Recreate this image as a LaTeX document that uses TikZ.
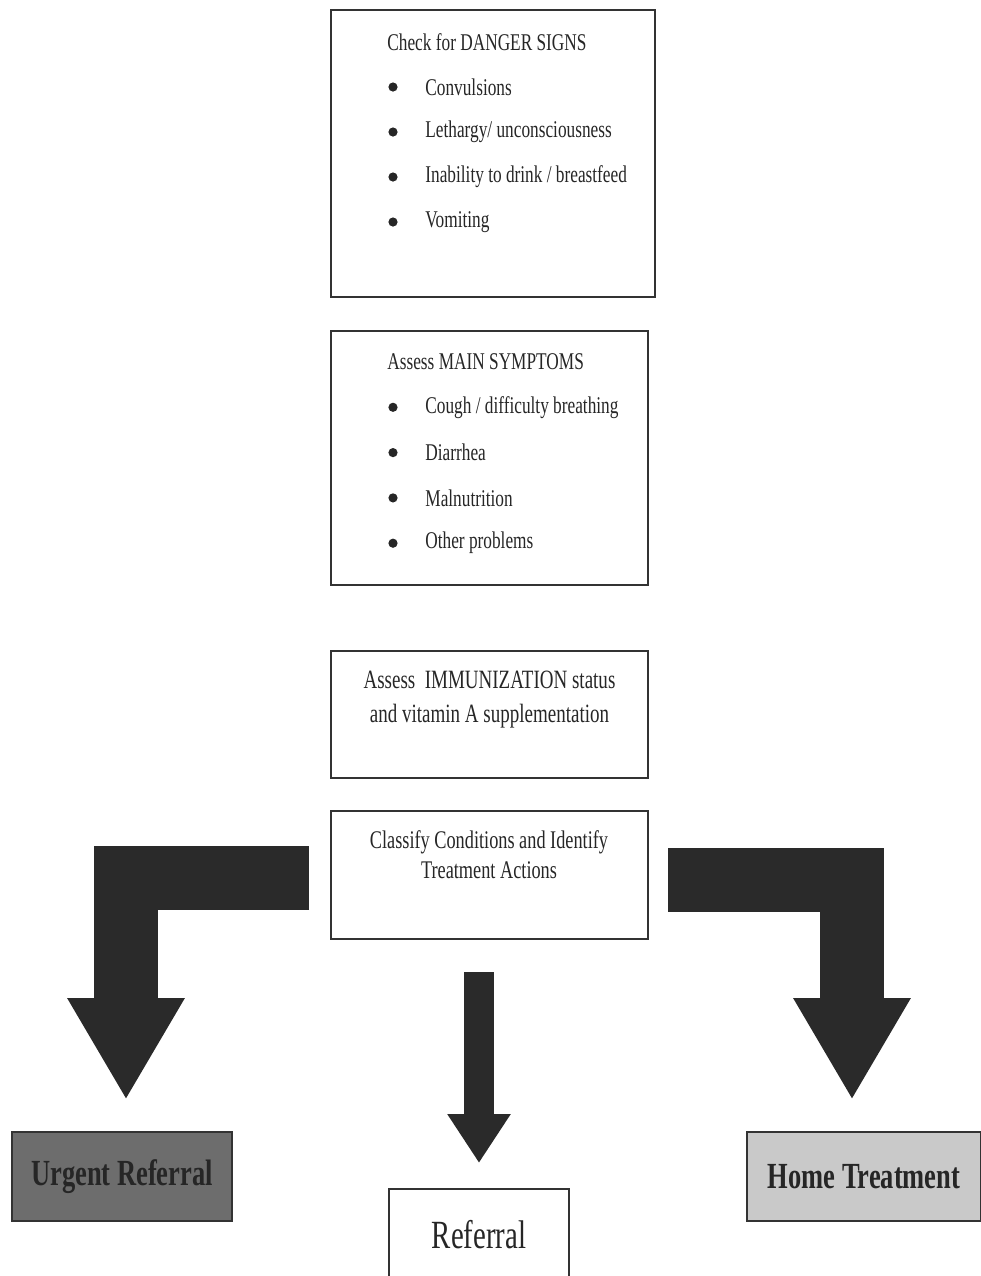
\documentclass[tikz,border=0pt]{standalone}
\usepackage{fontspec}
\setmainfont[FakeStretch=0.72]{Liberation Serif}
\usetikzlibrary{arrows.meta}
\definecolor{arrowgray}{HTML}{2A2A2A}
\definecolor{urgentgray}{HTML}{6D6D6D}
\definecolor{homegray}{HTML}{C9C9C9}

\begin{document}
\begin{tikzpicture}[x=0.5pt, y=-0.5pt,
	box/.style={draw=black!80, line width=1pt, inner sep=0pt},
	txt/.style={inner sep=0pt, anchor=west, text=black!85, font=\fontsize{12}{14}\selectfont},
	endbox/.style={box, minimum height=44.5pt, text=black!85, font=\fontsize{18.4}{22}\selectfont\bfseries},
	fatarrow/.style={draw=arrowgray, line width=32pt, -{Triangle[width=55pt, length=51pt]}}]
	\useasboundingbox (0,0) rectangle (981,1276);
	% boxes
	\node[box, minimum width=162pt, minimum height=143.5pt] (danger) at (493,153.5) {};
	\node[box, minimum width=158.5pt, minimum height=127pt] (main) at (489.5,458) {};
	\node[box, minimum width=158.5pt, minimum height=63.5pt] (immun) at (489.5,714.5) {};
	\node[box, minimum width=158.5pt, minimum height=64pt] (classify) at (489.5,875) {};
	% lists
	\node[txt] (dangerhead) at (387,42) {Check for DANGER SIGNS};
	\foreach \t [count=\i] in {Convulsions, Lethargy/ unconsciousness, Inability to drink / breastfeed, Vomiting}
	{
		\fill[black!85] (393,42+45*\i) circle [radius=2.3pt];
		\node[txt] (danger\i) at (425,42+45*\i) {\t};
	}
	\node[txt] (mainhead) at (387,362) {Assess MAIN SYMPTOMS};
	\foreach \t [count=\i] in {Cough / difficulty breathing, Diarrhea, Malnutrition, Other problems}
	{
		\fill[black!85] (393,362+45.3*\i) circle [radius=2.3pt];
		\node[txt] (main\i) at (425,362+45.3*\i) {\t};
	}
	\node[txt, anchor=center, align=center, font=\fontsize{13.2}{17}\selectfont] (immuntxt) at (489.5,700)
		{Assess\ \ IMMUNIZATION status\\and vitamin A supplementation};
	\node[txt, anchor=center, align=center, font=\fontsize{12.7}{15}\selectfont] (classifytxt) at (489,855)
		{Classify Conditions and Identify\\Treatment Actions};
	% outcomes
	\node[endbox, fill=urgentgray, minimum width=110pt] (urgent) at (122,1176.5) {Urgent Referral};
	\node[endbox, fill=homegray, minimum width=117pt] (home) at (864,1176.5) {Home Treatment};
	\node[endbox, minimum width=90pt, minimum height=45.5pt, font=\fontsize{20}{24}\selectfont] (referral) at (479,1234.5) {Referral};
	% arrows
	\draw[fatarrow] ([xshift=-10.5pt,yshift=-1.5pt]classify.west) -| ([xshift=2pt,yshift=15.5pt]urgent.north);
	\draw[fatarrow] ([xshift=9.5pt,yshift=-2.5pt]classify.east) -| ([xshift=-6pt,yshift=15.5pt]home.north);
	\draw[fatarrow, line width=15pt, -{Triangle[width=30pt, length=24.5pt]}] ([xshift=-5.25pt,yshift=-16pt]classify.south) -- ([yshift=12.5pt]referral.north);
\end{tikzpicture}
\end{document}
